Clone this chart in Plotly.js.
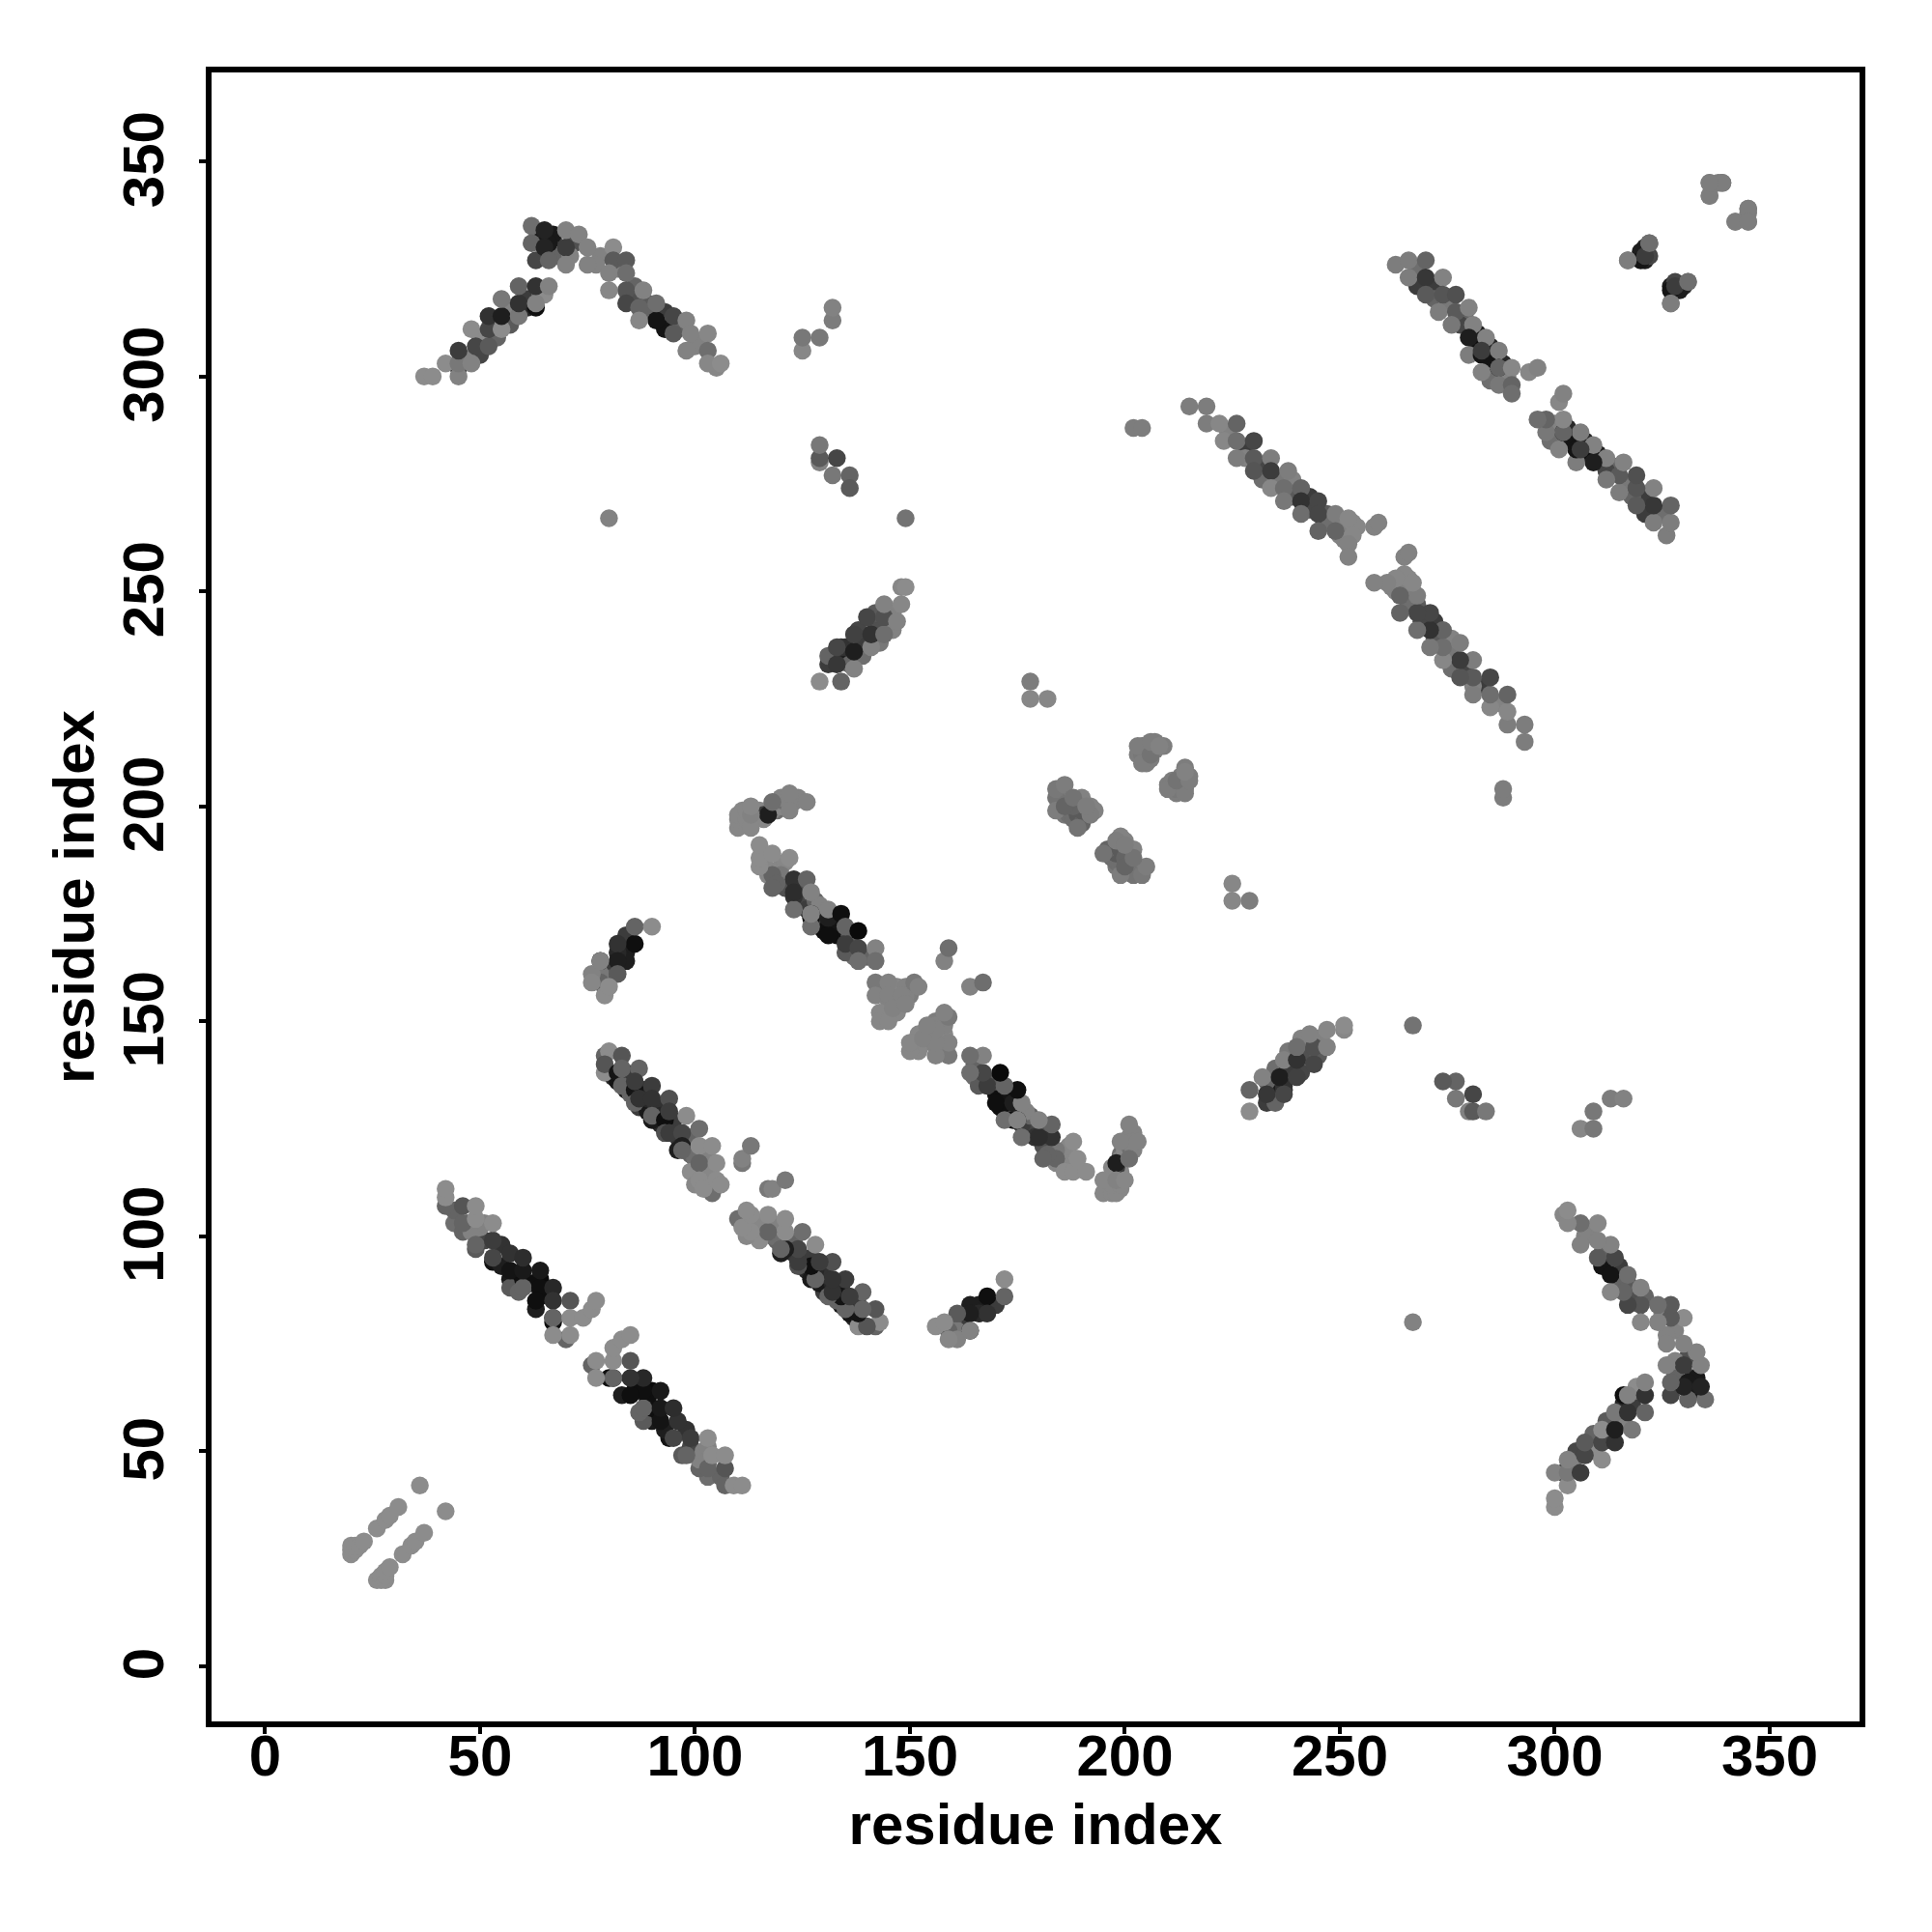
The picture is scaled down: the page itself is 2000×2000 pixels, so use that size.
<!DOCTYPE html>
<html>
<head>
<meta charset="utf-8">
<script src="https://cdn.plot.ly/plotly-3.0.1.min.js"></script>
<style>html,body{margin:0;padding:0;background:#fff}</style>
</head>
<body>
<div id="chart" style="width:2000px;height:2000px"></div>
<script>
// Contact pairs: [residue i, residue j, grey level]. The map is symmetric.
const shortPair = [[20,26,140],[20,27,140],[21,27,140],[20,28,140],[21,28,140],[22,28,140],[23,29,140],[26,32,140],[28,34,140],[29,35,140],[31,37,140],[36,42,140]];
const fillA = [[44,103,110],[46,101,100],[49,97,90],[53,94,20],[57,90,25],[57,88,90],[59,87,100],[63,83,30],[67,80,15],[60,90,15],[64,86,15],[64,90,10],[62,89,15],[55,93,30],[55,98,50],[51,99,70],[47,103,110],[44,106,100],[48,101,130],[50,102,130],[51,103,130]];
const fillB = [[81,137,40],[82,136,20],[84,134,20],[85,133,100],[87,130,60],[88,131,30],[89,129,25],[91,127,20],[92,126,40],[84,138,60],[85,135,40],[88,134,50],[89,132,40],[91,130,50],[92,128,40],[95,127,60],[96,123,50],[96,120,30],[99,123,100],[99,119,100],[100,118,110],[103,118,130],[103,115,135],[99,115,140],[100,112,135],[103,112,135],[104,111,110]];
const fillC = [[117,184,135],[120,186,135],[121,181,80],[124,178,70],[126,176,60],[125,181,80],[128,178,100],[129,177,130],[129,172,60],[130,171,15],[133,170,15],[133,173,20],[136,169,40],[136,170,90],[137,165,110],[135,166,90],[140,165,100],[123,179,50],[127,174,15],[118,185,135],[121,187,135],[116,187,135],[116,189,130],[120,184,120],[118,184,100],[144,158,125],[147,158,135],[149,158,130],[144,156,130],[147,154,130],[150,156,125],[147,152,135],[145,153,130],[149,156,130],[147,155,125],[143,152,135]];
const fillD = [[131,233,60],[131,235,100],[135,234,30],[135,237,50],[139,235,110],[139,238,60],[142,242,80],[138,241,70],[136,233,100],[134,237,50],[143,238,120],[146,241,130],[146,245,130],[142,245,90]];
const fillPeak = [[50,305,70],[47,304,130],[54,309,100],[50,309,140],[57,316,130],[61,316,40],[61,318,60],[64,319,100],[65,319,140],[57,312,90],[67,332,60],[68,328,100],[64,332,25],[67,333,25],[66,331,25],[72,331,80],[71,328,130],[78,328,130],[77,326,130],[82,325,130],[86,321,100],[86,318,80],[89,317,90],[89,315,100],[93,315,60],[93,312,90],[96,311,100],[101,308,130],[100,307,130],[105,302,135],[93,311,20]];
const fillE = [[224,287,130],[228,283,60],[228,281,130],[232,279,70],[232,276,110],[235,276,120],[239,276,130],[239,272,90],[243,272,60],[243,269,70],[247,268,90],[247,266,110],[251,265,130],[251,262,130],[253,266,135],[254,265,135],[250,263,130]];
const fillF = [[268,325,110],[268,321,60],[272,321,60],[272,318,100],[275,317,120],[279,314,100],[278,312,70],[282,310,30],[282,307,15],[285,304,20],[285,307,40],[288,303,40],[286,300,70],[285,299,110],[289,300,130]];
const fillMid = [[185,202,110],[186,198,120],[187,198,110],[188,197,110],[189,198,90],[190,196,100],[187,202,120],[190,199,90],[186,203,125],[188,200,100],[192,200,130],[185,200,120],[184,202,115],[190,202,130],[193,199,130],[203,212,125],[205,213,120],[206,214,120],[205,210,125],[207,213,125],[205,214,120],[204,214,120],[204,212,120],[206,211,125],[207,215,125],[209,214,125]];
const fillTop = [[111,196,135],[111,199,135],[114,197,135],[115,199,135],[116,198,60],[116,197,135],[119,199,110],[118,199,130],[120,200,135],[121,201,110],[123,201,130],[124,202,130],[120,202,130]];
const fillArm = [[84,166,30],[80,162,60],[84,164,30],[80,160,90],[84,170,60],[78,161,120],[82,166,40],[321,330,40],[320,328,20],[329,320,30]];
const stripA = [[42,107,100],[42,109,140],[42,111,140],[46,103,100],[46,107,85],[49,98,100],[49,104,140],[49,107,140],[53,95,70],[53,99,60],[53,103,140],[60,88,100],[57,92,20],[60,92,25],[57,96,50],[60,95,45],[64,88,15],[64,92,25],[63,85,15],[67,88,40],[67,85,50],[67,81,20],[71,85,85],[67,81,100],[70,76,100],[67,77,140],[71,77,140],[71,81,140],[74,81,140],[76,83,140],[77,85,140]];
const stripB = [[79,142,100],[80,143,140],[83,142,85],[79,138,140],[79,140,85],[82,138,20],[83,139,100],[87,139,100],[83,135,100],[86,134,20],[86,136,60],[90,135,60],[86,131,100],[87,132,50],[90,132,50],[94,132,80],[90,127,25],[90,128,100],[93,127,15],[94,129,60],[98,128,140],[93,124,80],[94,124,60],[97,124,70],[101,125,110],[97,121,30],[97,120,100],[101,121,140],[104,121,140],[101,117,100],[105,117,140],[104,110,110],[101,113,140],[102,111,140],[105,113,140],[106,112,140],[111,117,120],[111,118,130],[113,121,120]];
const stripC = [[115,186,140],[115,188,140],[115,191,140],[118,189,140],[122,188,140],[119,182,100],[118,181,100],[123,176,110],[123,183,50],[126,183,100],[123,180,45],[127,180,130],[127,175,20],[127,172,110],[127,175,130],[131,170,15],[131,174,30],[131,176,130],[134,175,15],[135,168,60],[135,172,100],[138,171,10],[138,167,70],[138,164,110],[142,167,130],[142,164,110],[142,159,120],[142,156,130],[145,159,130],[145,156,130],[148,156,130],[151,159,120],[152,158,130],[143,150,135],[145,150,135],[146,153,130],[149,154,130],[158,164,130],[159,167,110]];
const clusterTop = [[117,198,30],[118,201,110],[110,195,135],[110,197,135],[110,198,135],[112,197,135],[112,199,135],[113,195,135],[113,198,130],[113,200,135],[122,199,130],[122,203,130],[126,201,130]];
const shortArm = [[86,168,15],[82,168,50],[82,164,30],[78,164,15],[82,161,90],[78,159,100],[86,172,100],[90,172,140],[76,161,130],[76,159,135],[78,164,130],[79,156,140],[80,158,140]];
const peakLeft = [[37,300,140],[39,300,140],[45,302,50],[45,300,130],[42,303,140],[45,303,120],[45,306,60],[48,303,130],[49,307,70],[52,307,90],[48,311,140],[52,311,70],[55,311,140],[52,314,50],[55,314,30],[55,318,120],[59,314,120],[59,317,50],[59,321,100],[63,316,15],[63,317,130],[63,321,50],[66,321,130]];
const peakTop = [[62,335,110],[62,331,100],[63,327,70],[65,334,35],[65,330,35],[66,327,100],[70,330,60],[70,334,130],[70,326,130],[73,333,130],[75,330,130],[75,326,130],[81,330,140],[81,327,90],[84,327,90],[80,324,130],[84,324,110],[84,320,85],[80,320,135],[84,317,70],[88,320,130],[87,316,100],[91,313,20],[91,317,110],[87,313,135],[95,314,70],[95,310,90],[98,313,130],[99,310,130],[103,310,135],[98,306,130],[103,306,110],[103,303,135],[106,303,140]];
const scatterOne = [[80,267,130],[149,267,115],[125,306,135],[125,309,120],[129,309,120],[132,313,125],[132,316,130]];
const blockMid = [[129,280,130],[129,281,90],[129,284,120],[133,281,70],[132,277,120],[136,277,100],[136,274,90]];
const stripD = [[129,229,140],[134,229,100],[133,233,55],[133,237,70],[137,232,130],[137,236,30],[137,240,65],[141,237,130],[141,240,50],[140,244,70],[144,240,110],[144,244,80],[144,247,130],[147,243,130],[148,247,135],[148,251,135],[149,251,140]];
const stripE = [[215,293,125],[219,293,125],[219,289,125],[222,289,135],[226,289,100],[223,285,135],[226,285,110],[230,285,70],[226,281,125],[230,281,90],[230,278,85],[234,281,125],[234,278,60],[234,274,135],[238,278,125],[237,274,110],[237,271,120],[241,274,100],[241,271,50],[241,268,110],[245,271,70],[245,268,70],[245,264,100],[249,268,125],[249,264,100],[252,267,135],[253,263,135],[252,261,130],[252,258,130],[258,265,130],[259,266,130],[202,288,125],[204,288,125]];
const stripF = [[263,326,125],[266,327,125],[270,327,100],[266,323,125],[270,323,55],[274,323,130],[270,319,90],[274,319,85],[277,319,80],[273,315,125],[277,315,90],[280,316,130],[276,312,120],[281,312,130],[280,309,30],[280,305,125],[284,309,130],[283,305,20],[283,306,60],[283,301,130],[287,306,125],[287,302,15],[287,302,100],[290,302,135],[287,298,120],[290,298,100],[290,296,110],[294,301,135],[296,302,130]];
const cornerTop = [[317,327,125],[321,327,30],[322,328,70],[322,331,110],[327,320,20],[328,321,60],[331,322,110],[327,317,125],[336,342,130],[336,345,130],[338,345,125],[339,345,125],[342,336,125],[345,339,125],[345,336,125]];
const clusterMid = [[178,229,125],[178,225,135],[182,225,135],[184,199,125],[189,195,115],[192,198,125],[186,200,100],[184,204,120],[186,205,125],[188,202,115],[191,200,125],[203,214,125],[204,210,125],[206,212,115],[206,215,125],[208,214,130]];

const pairGroups = [fillA, fillB, fillC, fillD, fillPeak, fillE, fillF, fillMid, fillTop, fillArm, shortPair, stripA, stripB, stripC, clusterTop, shortArm, peakLeft, peakTop, scatterOne, blockMid, stripD, stripE, stripF, cornerTop, clusterMid];
const tickValues = [0, 50, 100, 150, 200, 250, 300, 350];
const axisTitle = 'residue index';

const xs = [], ys = [], colors = [];
pairGroups.forEach(group => group.forEach(p => {
  const c = 'rgb(' + p[2] + ',' + p[2] + ',' + p[2] + ')';
  xs.push(p[0]); ys.push(p[1]); colors.push(c);
  xs.push(p[1]); ys.push(p[0]); colors.push(c);
}));

const font = {family: '"Liberation Sans", Arial, sans-serif', size: 60, color: '#000', weight: 700};
const baseAxis = {
  showgrid: false, zeroline: false, showline: true, mirror: true,
  linecolor: '#000', linewidth: 6,
  ticks: 'outside', ticklen: 7, tickwidth: 4, tickcolor: '#000',
  tickmode: 'array', tickvals: tickValues, ticktext: tickValues.map(String),
  tickfont: font
};
const layout = {
  width: 2000, height: 2000, showlegend: false,
  paper_bgcolor: '#fff', plot_bgcolor: '#fff',
  margin: {l: 219, r: 75, t: 75, b: 218, pad: 0},
  xaxis: Object.assign({}, baseAxis, {range: [-12.45, 370.9], ticklabelstandoff: -29, title: {text: axisTitle, font: font, standoff: 19}}),
  yaxis: Object.assign({}, baseAxis, {range: [-12.88, 370.7], tickangle: -90, ticklabelstandoff: 13, ticklabelshift: 7, title: {text: axisTitle, font: font, standoff: 0}})
};
Plotly.newPlot('chart', [{
  type: 'scatter', mode: 'markers', x: xs, y: ys, cliponaxis: true,
  marker: {size: 18.5, color: colors, line: {width: 0}}
}], layout, {displayModeBar: false, staticPlot: true});
</script>
</body>
</html>
